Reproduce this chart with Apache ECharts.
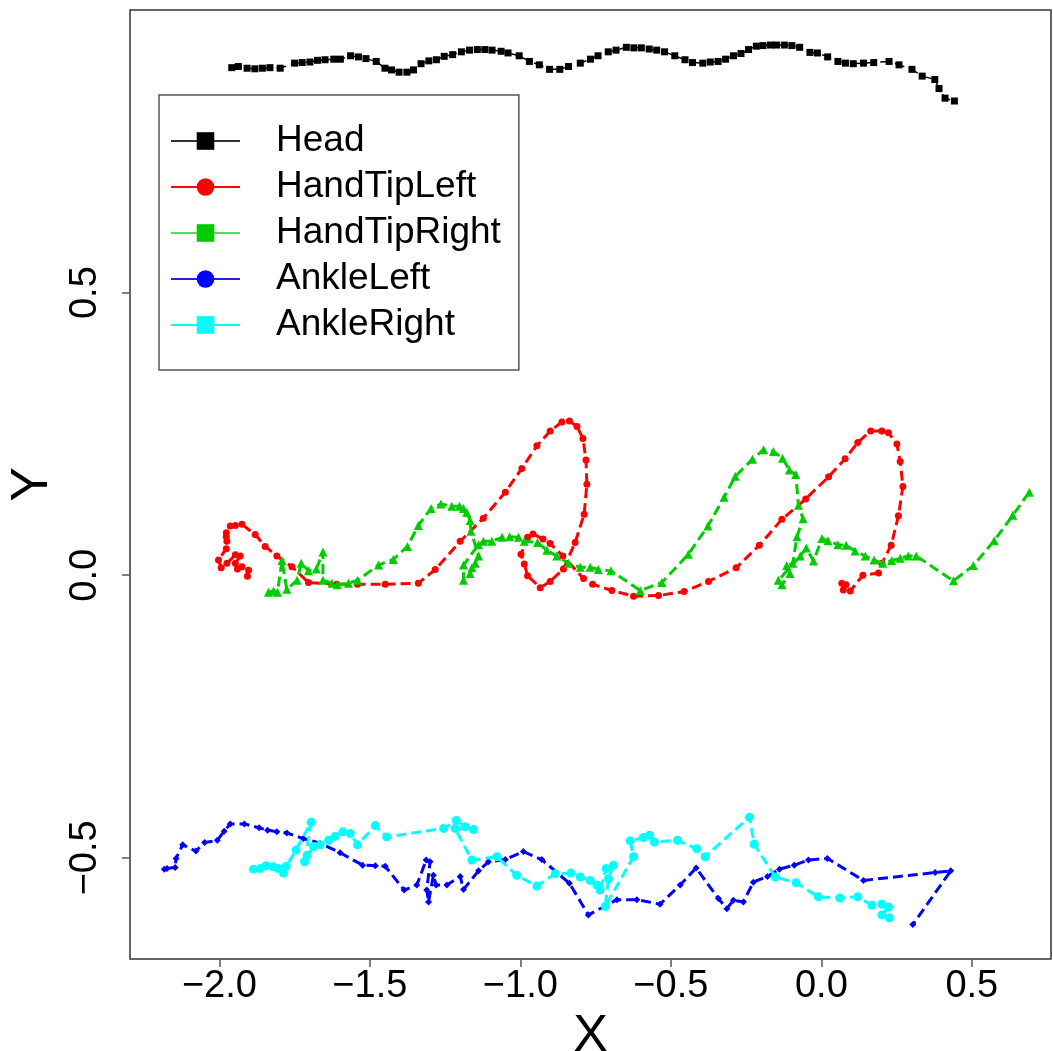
<!DOCTYPE html>
<html><head><meta charset="utf-8">
<script src="https://cdn.jsdelivr.net/npm/echarts@6/dist/echarts.min.js"></script>
<style>html,body{margin:0;padding:0;background:#fff}#c{width:1053px;height:1051px}</style>
</head><body><div id="c"></div>
<script>
// ---------- data ----------
const seriesNames = ['Head', 'HandTipLeft', 'HandTipRight', 'AnkleLeft', 'AnkleRight'];
const xTicks = [-2.0, -1.5, -1.0, -0.5, 0.0, 0.5];
const yTicks = [-0.5, 0.0, 0.5];

const headX = [-1.959,-1.937,-1.908,-1.882,-1.857,-1.832,-1.798,-1.750,-1.725,-1.699,
 -1.674,-1.649,-1.620,-1.598,-1.564,-1.538,-1.513,-1.479,-1.450,-1.428,
 -1.403,-1.377,-1.355,-1.330,-1.304,-1.279,-1.253,-1.225,-1.196,-1.169,
 -1.143,-1.118,-1.094,-1.064,-1.041,-1.004,-0.970,-0.937,-0.903,-0.869,
 -0.840,-0.801,-0.767,-0.742,-0.708,-0.682,-0.648,-0.623,-0.598,-0.572,
 -0.547,-0.521,-0.487,-0.453,-0.428,-0.394,-0.369,-0.343,-0.318,-0.292,
 -0.267,-0.242,-0.216,-0.194,-0.169,-0.149,-0.123,-0.098,-0.072,-0.038,
 -0.013,0.021,0.055,0.080,0.106,0.140,0.174,0.225,0.258,0.301,
 0.335,0.377,0.391,0.411,0.442];
const headY = [0.898,0.900,0.897,0.896,0.897,0.898,0.897,0.906,0.907,0.908,
 0.911,0.912,0.913,0.913,0.919,0.917,0.914,0.909,0.897,0.894,
 0.890,0.890,0.894,0.905,0.910,0.912,0.918,0.921,0.926,0.929,
 0.930,0.930,0.929,0.927,0.924,0.919,0.909,0.903,0.895,0.895,
 0.900,0.906,0.913,0.919,0.926,0.929,0.934,0.933,0.933,0.931,
 0.929,0.926,0.919,0.912,0.907,0.906,0.908,0.909,0.913,0.919,
 0.923,0.930,0.936,0.937,0.938,0.938,0.938,0.937,0.934,0.925,
 0.924,0.917,0.909,0.906,0.905,0.906,0.907,0.909,0.903,0.895,
 0.883,0.877,0.861,0.844,0.839];

const handLeftX = [-1.903,-1.907,-1.925,-1.940,-1.947,-1.931,-1.947,-1.975,-1.994,-2.003,
 -1.977,-1.975,-1.977,-1.977,-1.964,-1.947,-1.925,-1.881,-1.848,-1.809,
 -1.759,-1.704,-1.610,-1.541,-1.449,-1.339,-1.283,-1.200,-1.123,-1.050,
 -0.995,-0.945,-0.901,-0.862,-0.837,-0.812,-0.792,-0.782,-0.779,-0.788,
 -0.818,-0.857,-0.901,-0.934,-0.976,-0.987,-0.998,-0.976,-0.958,-0.925,
 -0.901,-0.859,-0.790,-0.760,-0.696,-0.624,-0.541,-0.456,-0.375,-0.283,
 -0.206,-0.131,-0.052,0.024,0.079,0.121,0.164,0.201,0.223,0.251,
 0.262,0.271,0.256,0.232,0.201,0.190,0.138,0.096,0.073,0.068,0.082];
const handLeftY = [0.009,-0.002,0.015,0.011,0.021,0.034,0.036,0.021,0.013,0.027,
 0.047,0.060,0.068,0.075,0.087,0.088,0.090,0.072,0.051,0.034,
 0.015,-0.013,-0.016,-0.016,-0.016,-0.014,0.010,0.060,0.101,0.147,
 0.189,0.229,0.255,0.271,0.273,0.263,0.242,0.204,0.161,0.108,
 0.058,0.011,-0.011,-0.022,-0.001,0.020,0.037,0.067,0.073,0.064,
 0.056,0.034,-0.006,-0.016,-0.027,-0.037,-0.036,-0.029,-0.011,0.013,
 0.053,0.099,0.135,0.174,0.206,0.235,0.255,0.255,0.252,0.232,
 0.201,0.157,0.105,0.053,0.021,0.004,0.000,-0.028,-0.026,-0.014,-0.017];

const handRightX = [-1.837,-1.820,-1.807,-1.792,-1.776,-1.742,-1.728,-1.704,-1.678,-1.656,
 -1.656,-1.626,-1.608,-1.571,-1.541,-1.471,-1.422,-1.375,-1.339,-1.297,
 -1.264,-1.228,-1.202,-1.189,-1.178,-1.167,-1.164,-1.139,-1.150,-1.161,
 -1.167,-1.189,-1.189,-1.139,-1.123,-1.095,-1.061,-1.036,-1.006,-0.987,
 -0.943,-0.912,-0.879,-0.840,-0.801,-0.768,-0.741,-0.699,-0.602,-0.530,
 -0.442,-0.377,-0.323,-0.286,-0.229,-0.192,-0.159,-0.129,-0.106,-0.085,
 -0.076,-0.061,-0.081,-0.095,-0.115,-0.104,-0.131,-0.143,-0.070,-0.050,
 -0.026,0.002,0.022,0.055,0.082,0.112,0.146,0.175,0.204,0.234,
 0.262,0.289,0.315,0.439,0.505,0.574,0.636,0.691];
const handRightY = [-0.030,-0.028,-0.030,0.026,-0.025,-0.009,0.021,0.008,0.011,0.041,
 -0.009,-0.014,-0.017,-0.014,-0.009,0.018,0.028,0.051,0.088,0.118,
 0.126,0.122,0.122,0.118,0.111,0.097,0.078,0.034,0.021,0.013,
 0.003,-0.009,0.018,0.054,0.060,0.060,0.067,0.068,0.067,0.060,
 0.058,0.044,0.034,0.021,0.014,0.014,0.010,0.008,-0.027,-0.013,
 0.037,0.087,0.138,0.175,0.205,0.222,0.219,0.207,0.186,0.178,
 0.124,0.100,0.068,0.021,0.017,0.003,-0.017,-0.009,0.034,0.048,
 0.025,0.065,0.061,0.054,0.053,0.043,0.034,0.027,0.021,0.026,
 0.030,0.034,0.034,-0.010,0.017,0.061,0.106,0.147];

const ankleLeftX = [-2.183,-2.174,-2.147,-2.144,-2.122,-2.078,-2.049,-2.007,-1.984,-1.964,
 -1.917,-1.868,-1.840,-1.809,-1.776,-1.721,-1.665,-1.599,-1.524,-1.482,
 -1.449,-1.386,-1.344,-1.313,-1.300,-1.311,-1.305,-1.289,-1.280,-1.244,
 -1.200,-1.189,-1.139,-1.106,-1.050,-0.990,-0.929,-0.837,-0.774,-0.679,
 -0.613,-0.536,-0.469,-0.416,-0.342,-0.314,-0.292,-0.259,-0.226,-0.179,
 -0.139,-0.090,-0.043,0.020,0.140,0.378,0.430,0.304];
const ankleLeftY = [-0.520,-0.519,-0.517,-0.501,-0.477,-0.488,-0.473,-0.469,-0.453,-0.440,
 -0.440,-0.447,-0.451,-0.454,-0.456,-0.466,-0.474,-0.491,-0.513,-0.514,
 -0.515,-0.557,-0.548,-0.504,-0.507,-0.557,-0.578,-0.531,-0.548,-0.548,
 -0.533,-0.556,-0.523,-0.507,-0.503,-0.489,-0.503,-0.545,-0.601,-0.574,
 -0.574,-0.582,-0.548,-0.518,-0.572,-0.590,-0.575,-0.578,-0.543,-0.533,
 -0.520,-0.513,-0.504,-0.501,-0.540,-0.526,-0.523,-0.618];

const ankleRightX = [-1.887,-1.864,-1.845,-1.822,-1.804,-1.787,-1.778,-1.745,-1.695,-1.717,
 -1.709,-1.687,-1.665,-1.637,-1.615,-1.590,-1.565,-1.541,-1.482,-1.444,
 -1.255,-1.213,-1.183,-1.156,-1.217,-1.161,-1.078,-1.012,-0.945,-0.884,
 -0.832,-0.801,-0.768,-0.746,-0.735,-0.715,-0.691,-0.707,-0.718,-0.624,
 -0.635,-0.591,-0.571,-0.555,-0.478,-0.414,-0.386,-0.239,-0.223,-0.153,
 -0.084,-0.010,0.062,0.121,0.168,0.201,0.223,0.201,0.226];
const ankleRightY = [-0.520,-0.519,-0.514,-0.516,-0.519,-0.527,-0.515,-0.486,-0.437,-0.507,
 -0.496,-0.480,-0.477,-0.469,-0.462,-0.454,-0.457,-0.477,-0.443,-0.463,
 -0.448,-0.434,-0.445,-0.450,-0.448,-0.504,-0.498,-0.531,-0.550,-0.528,
 -0.527,-0.534,-0.540,-0.548,-0.557,-0.519,-0.513,-0.537,-0.586,-0.498,
 -0.470,-0.464,-0.460,-0.472,-0.469,-0.484,-0.498,-0.428,-0.476,-0.534,
 -0.544,-0.569,-0.571,-0.569,-0.584,-0.582,-0.587,-0.601,-0.606];

// ---------- chart ----------
const FONT = "'Liberation Sans', Arial, Helvetica, sans-serif";
const zip = (xs, ys) => xs.map((x, i) => [x, ys[i]]);
const fmt = v => (v < 0 ? '\u2212' : '') + Math.abs(v).toFixed(1);

const colors = ['#000000', '#ff0000', '#00cd00', '#0000ff', '#00ffff'];
const legendLineColors = ['#333333', '#ff0000', '#55dd55', '#2222dd', '#00ffff'];
const legendSymbols = ['rect', 'circle', 'rect', 'circle', 'rect'];
const plotSymbols = ['rect', 'circle', 'triangle', 'diamond', 'circle'];
const plotSymbolSizes = [7, 7, 9, 7, 9];
const plotData = [zip(headX, headY), zip(handLeftX, handLeftY), zip(handRightX, handRightY),
                  zip(ankleLeftX, ankleLeftY), zip(ankleRightX, ankleRightY)];

const legendSeries = seriesNames.map((n, i) => ({
  type: 'line', name: n, data: [], symbol: legendSymbols[i],
  itemStyle: { color: colors[i] },
  lineStyle: { color: legendLineColors[i], width: 1.5, type: 'solid' }
}));
const dataSeries = seriesNames.map((n, i) => ({
  type: 'line', name: n, data: plotData[i],
  symbol: plotSymbols[i], symbolSize: plotSymbolSizes[i], showAllSymbol: true,
  itemStyle: { color: colors[i] },
  lineStyle: { color: colors[i], width: i === 0 ? 1.5 : 3, type: [10, 5] },
  emphasis: { disabled: true }, z: 2 + i
}));

const chart = echarts.init(document.getElementById('c'), null, { renderer: 'canvas' });
chart.setOption({
  animation: false,
  backgroundColor: '#ffffff',
  grid: { left: 130, top: 10, right: 2, bottom: 92, containLabel: false, outerBoundsMode: 'none',
          show: true, borderColor: '#333', borderWidth: 1.5, backgroundColor: 'transparent' },
  xAxis: {
    type: 'value', min: -2.297, max: 0.763,
    name: 'X', nameLocation: 'middle', nameGap: 42,
    nameTextStyle: { fontSize: 52, fontFamily: FONT, color: '#000' },
    axisLine: { show: false, onZero: false }, splitLine: { show: false },
    axisTick: { show: true, customValues: xTicks, length: 8, lineStyle: { color: '#555', width: 1.5 } },
    axisLabel: { customValues: xTicks, formatter: fmt, fontSize: 38, fontFamily: FONT, color: '#000', margin: 9 }
  },
  yAxis: {
    type: 'value', min: -0.679, max: 1.000,
    name: 'Y', nameLocation: 'middle', nameGap: 66, nameRotate: 90,
    nameTextStyle: { fontSize: 52, fontFamily: FONT, color: '#000' },
    axisLine: { show: false, onZero: false }, splitLine: { show: false },
    axisTick: { show: true, customValues: yTicks, length: 8, lineStyle: { color: '#555', width: 1.5 } },
    axisLabel: { customValues: yTicks, formatter: fmt, fontSize: 38, fontFamily: FONT, color: '#000', rotate: 90, margin: 25 }
  },
  legend: {
    show: true, orient: 'vertical', left: 159, top: 95,
    data: seriesNames, selectedMode: false,
    backgroundColor: '#ffffff', borderColor: '#555', borderWidth: 1.5,
    padding: [27, 18, 26, 11], itemWidth: 69, itemHeight: 22, itemGap: 8,
    textStyle: { fontSize: 37, fontFamily: FONT, color: '#000', lineHeight: 38, padding: [0, 0, 0, 31] }
  },
  series: legendSeries.concat(dataSeries)
});
</script></body></html>
